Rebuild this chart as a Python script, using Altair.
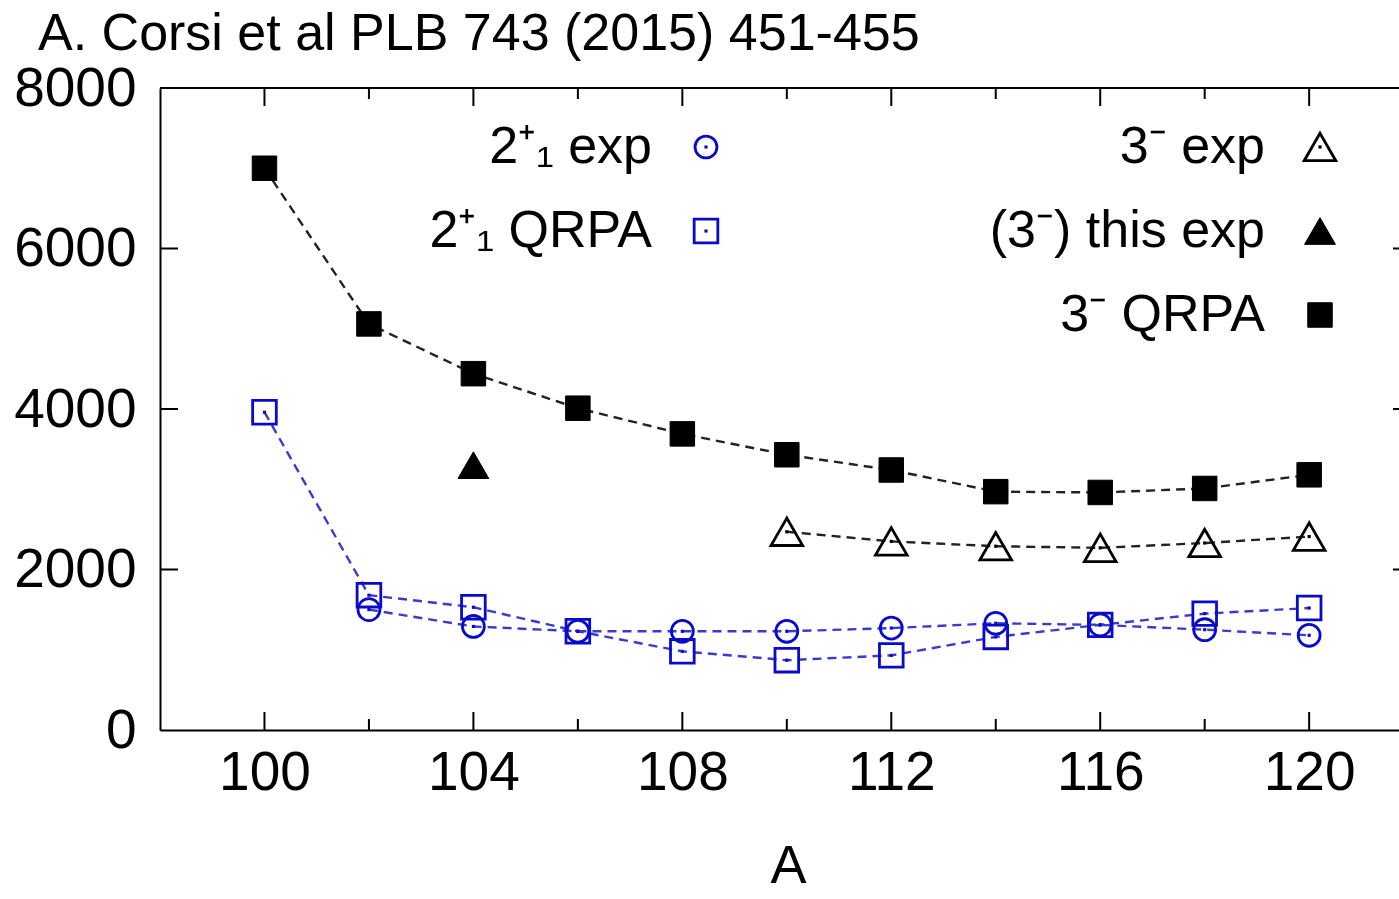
import altair as alt
import pandas as pd

# ---------------- data ----------------
A_2EXP = [102, 104, 106, 108, 110, 112, 114, 116, 118, 120]
E_2EXP = [1500, 1290, 1230, 1230, 1230, 1270, 1330, 1310, 1250, 1180]

A_2QRPA = [100, 102, 104, 106, 108, 110, 112, 114, 116, 118, 120]
E_2QRPA = [3960, 1680, 1530, 1230, 980, 870, 930, 1160, 1310, 1450, 1520]

A_3EXP = [110, 112, 114, 116, 118, 120]
E_3EXP = [2470, 2350, 2290, 2270, 2330, 2410]

A_3THIS = [104]
E_3THIS = [3300]

A_3QRPA = [100, 102, 104, 106, 108, 110, 112, 114, 116, 118, 120]
E_3QRPA = [7000, 5060, 4440, 4010, 3690, 3430, 3240, 2970, 2960, 3010, 3180]

X_TICKS = [100, 102, 104, 106, 108, 110, 112, 114, 116, 118, 120]
X_LABELS = [100, 104, 108, 112, 116, 120]
Y_TICKS = [0, 2000, 4000, 6000, 8000]

LEG_LEFT = ["2\u207a\u2081 exp", "2\u207a\u2081 QRPA"]
LEG_RIGHT = ["3\u207b exp", "(3\u207b) this exp", "3\u207b QRPA"]

TITLE = "A. Corsi et al PLB 743 (2015) 451-455"

# ---------------- styling ----------------
FONT = "Liberation Sans"
BLUE = "#0a0acc"
BLUE_LINE = "#3a3ad0"
W, H = 1239, 642
XDOM = [98, 121.72]
YDOM = [0, 8000]
DASH = [9, 6]

xs = alt.Scale(domain=XDOM, nice=False, zero=False)
ys = alt.Scale(domain=YDOM, nice=False, zero=False)

x_axis = alt.Axis(values=X_LABELS, format="d", ticks=False, grid=False,
                  domain=True, domainColor="black", domainWidth=2,
                  labelFont=FONT, labelFontSize=55, labelColor="black",
                  labelPadding=16, labelFlush=False, labelOverlap=False,
                  title="A", titleFont=FONT,
                  titleFontSize=54, titleFontWeight="normal",
                  titleColor="black", titleX=628, titleY=152,
                  titleBaseline="alphabetic", titleAlign="center")
y_axis = alt.Axis(values=Y_TICKS, format="d", ticks=False, grid=False,
                  domain=True, domainColor="black", domainWidth=2,
                  labelFont=FONT, labelFontSize=55, labelColor="black",
                  labelPadding=24, labelFlush=False, labelOverlap=False,
                  title=None)


def df(a, e):
    return pd.DataFrame({"A": a, "E": e})


def xenc():
    return alt.X("A:Q", scale=xs, axis=x_axis)


def yenc():
    return alt.Y("E:Q", scale=ys, axis=y_axis)


layers = []

# lines
for a, e, col in [(A_2EXP, E_2EXP, BLUE_LINE), (A_2QRPA, E_2QRPA, BLUE_LINE),
                  (A_3EXP, E_3EXP, "#222222"), (A_3QRPA, E_3QRPA, "#222222")]:
    layers.append(
        alt.Chart(df(a, e)).mark_line(color=col, strokeDash=DASH,
                                      strokeWidth=2.4).encode(
            x=xenc(), y=yenc())
    )

# markers
SPECS = [
    (A_2EXP, E_2EXP, "circle", BLUE, False, 480),
    (A_2QRPA, E_2QRPA, "square", BLUE, False, 560),
    (A_3EXP, E_3EXP, "triangle-up", "black", False, 1000),
    (A_3THIS, E_3THIS, "triangle-up", "black", True, 950),
    (A_3QRPA, E_3QRPA, "square", "black", True, 600),
]
for a, e, shp, col, filled, size in SPECS:
    if filled:
        m = alt.Chart(df(a, e)).mark_point(shape=shp, filled=True, fill=col,
                                           stroke=col, strokeWidth=1,
                                           size=size, opacity=1)
    else:
        m = alt.Chart(df(a, e)).mark_point(shape=shp, filled=False, color=col,
                                           strokeWidth=2.8, size=size,
                                           opacity=1)
    layers.append(m.encode(x=xenc(), y=yenc()))
    if not filled:
        layers.append(
            alt.Chart(df(a, e)).mark_point(shape="square", filled=True,
                                           color=col, size=10, opacity=1)
            .encode(x=xenc(), y=yenc())
        )

# top border
layers.append(
    alt.Chart(pd.DataFrame({"E": [YDOM[1]]})).mark_rule(
        color="black", strokeWidth=2).encode(y=yenc())
)

# inward ticks
xt = pd.DataFrame({"A": X_TICKS})
xt["major"] = [(t - X_TICKS[0]) % 4 == 0 for t in X_TICKS]
for major, ln in [(True, 18), (False, 11)]:
    sub = xt[xt["major"] == major][["A"]]
    layers.append(alt.Chart(sub).mark_rule(color="black", strokeWidth=2).encode(
        x=xenc(), y=alt.value(H), y2=alt.value(H - ln)))
    layers.append(alt.Chart(sub).mark_rule(color="black", strokeWidth=2).encode(
        x=xenc(), y=alt.value(0), y2=alt.value(ln)))
yt = pd.DataFrame({"E": Y_TICKS[1:-1]})
layers.append(alt.Chart(yt).mark_rule(color="black", strokeWidth=2).encode(
    y=yenc(), x=alt.value(0), x2=alt.value(18)))
layers.append(alt.Chart(yt).mark_rule(color="black", strokeWidth=2).encode(
    y=yenc(), x=alt.value(W - 6), x2=alt.value(W)))

# legend (gnuplot-style key: right-aligned text, symbol on the right)
ROW0, ROWSTEP = 59, 84
LEG_SPECS_LEFT = [("circle", BLUE, False, 480), ("square", BLUE, False, 560)]
LEG_SPECS_RIGHT = [("triangle-up", "black", False, 1000),
                   ("triangle-up", "black", True, 950),
                   ("square", "black", True, 600)]
for labels, specs, tx, sx in [(LEG_LEFT, LEG_SPECS_LEFT, 492, 546),
                              (LEG_RIGHT, LEG_SPECS_RIGHT, 1105, 1160)]:
    for i, (lab, (shp, col, filled, size)) in enumerate(zip(labels, specs)):
        yy = ROW0 + i * ROWSTEP
        d = pd.DataFrame({"label": [lab]})
        layers.append(alt.Chart(d).mark_text(
            align="right", baseline="middle", font=FONT, fontSize=52,
            color="black").encode(x=alt.value(tx), y=alt.value(yy),
                                  text="label:N"))
        if filled:
            pm = alt.Chart(d).mark_point(shape=shp, filled=True, fill=col,
                                         stroke=col, strokeWidth=1, size=size,
                                         opacity=1)
        else:
            pm = alt.Chart(d).mark_point(shape=shp, filled=False, color=col,
                                         strokeWidth=2.8, size=size, opacity=1)
        layers.append(pm.encode(x=alt.value(sx), y=alt.value(yy)))
        if not filled:
            layers.append(alt.Chart(d).mark_point(
                shape="square", filled=True, color=col, size=10, opacity=1
            ).encode(x=alt.value(sx), y=alt.value(yy)))

# chart title (placed above the frame, left of the y labels)
layers.append(
    alt.Chart(pd.DataFrame({"t": [TITLE]})).mark_text(
        align="left", baseline="alphabetic", font=FONT, fontSize=52,
        color="black").encode(x=alt.value(-122), y=alt.value(-38), text="t:N")
)

chart = alt.layer(*layers).properties(
    width=W, height=H,
    autosize=alt.AutoSizeParams(type="none"),
    padding={"left": 160, "top": 88, "right": 0, "bottom": 169},
).configure_view(stroke=None).configure(background="white")

chart.save("out.html", embed_options={"renderer": "svg", "actions": False})
